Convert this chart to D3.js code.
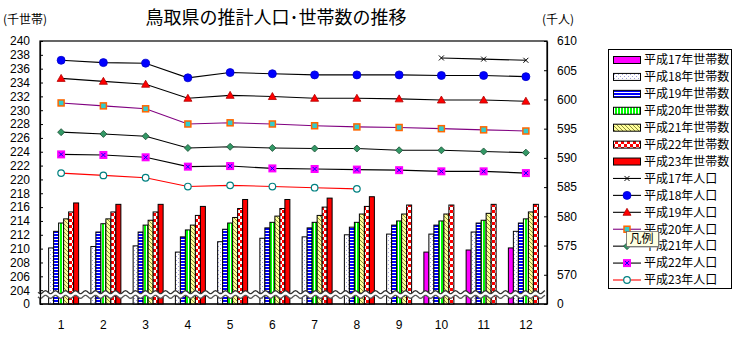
<!DOCTYPE html>
<html><head><meta charset="utf-8">
<script src="https://cdn.jsdelivr.net/npm/d3@7"></script>
<style>
html,body{margin:0;padding:0;background:#fff;}
svg{display:block;}
</style></head>
<body>
<svg id="chart" width="738" height="340"></svg>
<script>
// ---------- DATA ----------
const months = [1,2,3,4,5,6,7,8,9,10,11,12];
const leftTicks = [204,206,208,210,212,214,216,218,220,222,224,226,228,230,232,234,236,238,240];
const rightTicks = [570,575,580,585,590,595,600,605,610];

const hh17 = [null,null,null,null,null,null,null,null,null,209.5,209.8,210.1];
const hh18 = [210.1,210.3,210.4,209.5,211.0,211.5,211.7,212.0,212.1,212.1,212.4,212.5];
const hh19 = [212.5,212.4,212.4,211.7,212.8,213.0,213.0,213.1,213.4,213.4,213.7,213.7];
const hh20 = [213.7,213.6,213.4,212.7,213.7,213.8,213.8,213.8,214.0,214.0,214.1,214.3];
const hh21 = [214.3,214.3,214.1,213.4,214.5,214.7,214.8,215.0,215.0,215.0,215.1,215.3];
const hh22 = [215.3,215.3,215.3,214.8,215.8,215.8,216.0,216.1,216.3,216.3,216.4,216.4];
const hh23 = [216.6,216.4,216.4,216.1,217.1,217.1,217.3,217.5,null,null,null,null];

const pop17 = [null,null,null,null,null,null,null,null,null,607.1,606.9,606.7];
const pop18 = [606.7,606.3,606.2,603.7,604.6,604.4,604.2,604.2,604.2,604.1,604.1,603.9];
const pop19 = [603.6,603.1,602.6,600.2,600.7,600.5,600.2,600.2,600.1,599.9,599.9,599.7];
const pop20 = [599.4,598.9,598.4,595.8,596.0,595.8,595.5,595.3,595.2,595.0,594.8,594.6];
const pop21 = [594.4,594.1,593.7,591.7,591.9,591.7,591.6,591.6,591.3,591.3,591.1,590.9];
const pop22 = [590.6,590.5,590.1,588.5,588.6,588.2,588.1,588.0,587.9,587.7,587.7,587.4];
const pop23 = [587.4,587.0,586.6,585.1,585.3,585.1,584.9,584.7,null,null,null,null];

const barNames = ["平成17年世帯数","平成18年世帯数","平成19年世帯数","平成20年世帯数","平成21年世帯数","平成22年世帯数","平成23年世帯数"];
const lineNames = ["平成17年人口","平成18年人口","平成19年人口","平成20年人口","平成21年人口","平成22年人口","平成23年人口"];

// ---------- SETUP ----------
const svg = d3.select("#chart");
const jp = "'Noto Sans CJK JP','Noto Sans',sans-serif";
const num = "'Liberation Sans',Arial,sans-serif";
const L = 40, R = 547, T = 41, B = 304;

const defs = svg.append("defs");
let p = defs.append("pattern").attr("id","p18").attr("patternUnits","userSpaceOnUse").attr("width",4).attr("height",4);
p.append("rect").attr("width",4).attr("height",4).attr("fill","#fff");
p.append("rect").attr("x",0).attr("y",0).attr("width",1).attr("height",1).attr("fill","#a0a0d8");
p.append("rect").attr("x",2).attr("y",2).attr("width",1).attr("height",1).attr("fill","#a0a0d8");
p = defs.append("pattern").attr("id","p19").attr("patternUnits","userSpaceOnUse").attr("width",4).attr("height",3);
p.append("rect").attr("width",4).attr("height",3).attr("fill","#fff");
p.append("rect").attr("width",4).attr("height",2).attr("fill","#0000ff");
p = defs.append("pattern").attr("id","p20").attr("patternUnits","userSpaceOnUse").attr("width",3).attr("height",4);
p.append("rect").attr("width",3).attr("height",4).attr("fill","#fff");
p.append("rect").attr("width",2).attr("height",4).attr("fill","#00ff00");
p = defs.append("pattern").attr("id","p21").attr("patternUnits","userSpaceOnUse").attr("width",4).attr("height",4);
p.append("rect").attr("width",4).attr("height",4).attr("fill","#ffff99");
p.append("path").attr("d","M0,0 L4,4 M-1,3 L1,5 M3,-1 L5,1").attr("stroke","#8c8c3c").attr("stroke-width",1);
p = defs.append("pattern").attr("id","p22").attr("patternUnits","userSpaceOnUse").attr("width",6).attr("height",6);
p.append("rect").attr("width",6).attr("height",6).attr("fill","#fff");
p.append("rect").attr("width",3).attr("height",3).attr("fill","#ff0000");
p.append("rect").attr("x",3).attr("y",3).attr("width",3).attr("height",3).attr("fill","#ff0000");

const barFills = ["#ff00ff","url(#p18)","url(#p19)","url(#p20)","url(#p21)","url(#p22)","#ff0000"];
const barSeries = [hh17,hh18,hh19,hh20,hh21,hh22,hh23];
const lineSeries = [pop17,pop18,pop19,pop20,pop21,pop22,pop23];
const lineColors = ["#000","#000","#000","#800080","#000","#000","#ff0000"];

const x = d3.scaleBand().domain(months).range([L,R]).padding(0);
const groupW = 35;
const xi = d3.scaleBand().domain(d3.range(7)).range([0,groupW]).padding(0);
const yL = d3.scaleLinear().domain([202,240]).range([B,T]);
const yR = d3.scaleLinear().domain([565,610]).range([B,T]);

svg.append("rect").attr("x",L).attr("y",T).attr("width",R-L).attr("height",B-T)
  .attr("fill","#fff").attr("stroke","#000").attr("stroke-width",1.2);

barSeries.forEach((ser,si)=>{
  svg.append("g").selectAll("rect").data(months.map((m,i)=>({m,v:ser[i]})).filter(d=>d.v!=null))
    .join("rect")
    .attr("x",d=>x(d.m)+(x.bandwidth()-groupW)/2+xi(si))
    .attr("y",d=>yL(d.v))
    .attr("width",xi.bandwidth())
    .attr("height",d=>B-yL(d.v))
    .attr("fill",barFills[si]).attr("stroke","#000").attr("stroke-width",1);
});

// axis break wave (decoration)
const waveX = d3.range(38,546,1);
const yc = 294.5;
const wv = (dy)=>d3.line().x(d=>d).y(d=>yc+dy+1.6*Math.sin((d-38)/10*2*Math.PI)).curve(d3.curveBasis)(waveX);
svg.append("path").attr("d",wv(0)).attr("fill","none").attr("stroke","#fff").attr("stroke-width",4);
svg.append("path").attr("d",wv(-2.3)).attr("fill","none").attr("stroke","#333").attr("stroke-width",1.3);
svg.append("path").attr("d",wv(2.3)).attr("fill","none").attr("stroke","#555").attr("stroke-width",1.3);

svg.append("line").attr("x1",L).attr("x2",R).attr("y1",B).attr("y2",B).attr("stroke","#000").attr("stroke-width",1.2);

const axL = d3.axisLeft(yL).tickValues([202].concat(leftTicks)).tickSizeInner(-3).tickSizeOuter(0)
  .tickFormat(d=>d===202?"0":d).tickPadding(10);
const gL = svg.append("g").attr("transform",`translate(${L},0)`).call(axL);
const axR = d3.axisRight(yR).tickValues([565].concat(rightTicks)).tickSizeInner(-3).tickSizeOuter(0)
  .tickFormat(d=>d===565?"0":d).tickPadding(10);
const gR = svg.append("g").attr("transform",`translate(${R},0)`).call(axR);
const axB = d3.axisBottom(x).tickSize(0).tickPadding(16);
const gB = svg.append("g").attr("transform",`translate(0,${B})`).call(axB);
[gL,gR,gB].forEach(g=>{
  g.selectAll("path.domain").attr("stroke","#000").attr("stroke-width",1.2);
  g.selectAll("line").attr("stroke","#000");
  g.selectAll("text").attr("font-family",num).attr("font-size",12).attr("fill","#000");
});
gB.select("path.domain").remove();

const markerFn = [
  (g,cx,cy)=>{ g.append("path").attr("d",`M${cx-2.5},${cy-2.5}L${cx+2.5},${cy+2.5}M${cx-2.5},${cy+2.5}L${cx+2.5},${cy-2.5}`).attr("stroke","#000").attr("stroke-width",1); },
  (g,cx,cy)=>{ g.append("circle").attr("cx",cx).attr("cy",cy).attr("r",4).attr("fill","#0000ff").attr("stroke","#0000cc").attr("stroke-width",0.8); },
  (g,cx,cy)=>{ g.append("path").attr("d",`M${cx},${cy-4}L${cx+4},${cy+3}L${cx-4},${cy+3}Z`).attr("fill","#ff0000").attr("stroke","#b00000").attr("stroke-width",0.8); },
  (g,cx,cy)=>{ g.append("rect").attr("x",cx-3).attr("y",cy-3).attr("width",6).attr("height",6).attr("fill","#33cccc").attr("stroke","#ff6600").attr("stroke-width",1.5); },
  (g,cx,cy)=>{ g.append("path").attr("d",`M${cx},${cy-3.5}L${cx+3.5},${cy}L${cx},${cy+3.5}L${cx-3.5},${cy}Z`).attr("fill","#339966").attr("stroke","#1a4d33").attr("stroke-width",0.8); },
  (g,cx,cy)=>{ g.append("rect").attr("x",cx-4).attr("y",cy-4).attr("width",8).attr("height",8).attr("fill","#ff00ff");
               g.append("path").attr("d",`M${cx-2},${cy-2}L${cx+2},${cy+2}M${cx-2},${cy+2}L${cx+2},${cy-2}`).attr("stroke","#0000ff").attr("stroke-width",1); },
  (g,cx,cy)=>{ g.append("circle").attr("cx",cx).attr("cy",cy).attr("r",3.3).attr("fill","#fff").attr("stroke","#008080").attr("stroke-width",1.2); }
];
lineSeries.forEach((ser,si)=>{
  const pts = months.map((m,i)=>({m,v:ser[i]})).filter(d=>d.v!=null);
  const line = d3.line().x(d=>x(d.m)+x.bandwidth()/2).y(d=>yR(d.v));
  svg.append("path").datum(pts).attr("d",line).attr("fill","none").attr("stroke",lineColors[si]).attr("stroke-width",1.1);
  const g = svg.append("g");
  pts.forEach(d=>markerFn[si](g,x(d.m)+x.bandwidth()/2,yR(d.v)));
});

svg.append("text").attr("x",276).attr("y",24).attr("text-anchor","middle")
  .attr("font-family",jp).attr("font-size",18).text("鳥取県の推計人口･世帯数の推移");
svg.append("text").attr("x",3).attr("y",24).attr("font-family",jp).attr("font-size",12).text("(千世帯)");
svg.append("text").attr("x",542).attr("y",24).attr("font-family",jp).attr("font-size",12).text("(千人)");

// legend
const lg = svg.append("g");
lg.append("rect").attr("x",608.5).attr("y",49.5).attr("width",123).attr("height",239)
  .attr("fill","#fff").attr("stroke","#000").attr("stroke-width",1);
const allNames = barNames.concat(lineNames);
const step = 220/13;
allNames.forEach((nm,i)=>{
  const cy = 60 + i*step;
  if(i<7){
    lg.append("rect").attr("x",613.5).attr("y",cy-3.5).attr("width",27).attr("height",7)
      .attr("fill",barFills[i]).attr("stroke","#000").attr("stroke-width",1);
  } else {
    const si=i-7;
    lg.append("line").attr("x1",613).attr("x2",641).attr("y1",cy).attr("y2",cy).attr("stroke",lineColors[si]).attr("stroke-width",1.1);
    markerFn[si](lg,627,cy);
  }
  lg.append("text").attr("x",644).attr("y",cy).attr("dy","0.36em")
    .attr("font-family",jp).attr("font-size",12).text(nm);
});
// tooltip "凡例"
svg.append("rect").attr("x",627.5).attr("y",232.5).attr("width",32).attr("height",15).attr("fill","#999");
svg.append("rect").attr("x",626.5).attr("y",231.5).attr("width",32).attr("height",15)
  .attr("fill","#ffffe1").attr("stroke","#666").attr("stroke-width",0.8);
svg.append("text").attr("x",629.5).attr("y",239).attr("dy","0.36em").attr("font-family",jp).attr("font-size",12).text("凡例");
</script>
</body></html>
